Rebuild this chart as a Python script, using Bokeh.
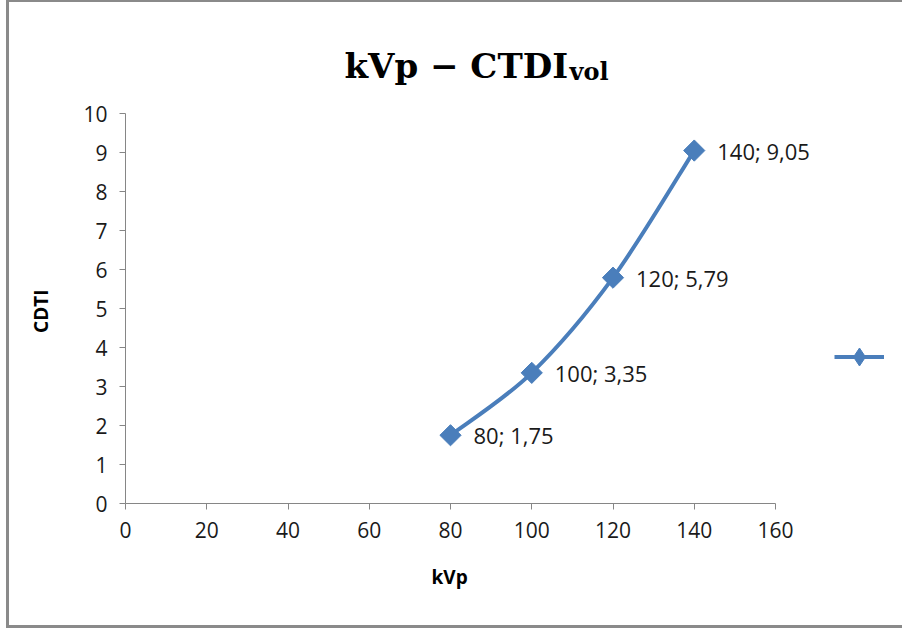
from bokeh.plotting import figure
from bokeh.models import (Range1d, FixedTicker, Label, LabelSet, Legend, LegendItem,
                          ColumnDataSource, Title)
from bokeh.core.properties import value
from bokeh.embed import file_html
from bokeh.resources import INLINE
import math

# data
kvp = [80, 100, 120, 140]
ctdi = [1.75, 3.35, 5.79, 9.05]
x_ticks = [0, 20, 40, 60, 80, 100, 120, 140, 160]
y_ticks = [0, 1, 2, 3, 4, 5, 6, 7, 8, 9, 10]
title_main = "kVp \u2212 CTDI"
title_sub = "vol"
x_label = "kVp"
y_label = "CDTI"

BLUE = "#4A7EBB"
AXIS = "#868686"
FONT = "Open Sans"
EDGE = "#8a8a8a"

# plot geometry: axis spans 0..160 over 650px and 0..10 over 390px;
# the frame is extended to the canvas edges so the texts outside the axes are not clipped
W, H = 902, 628
LEFT, BOTTOM = 125, 125
XMAX, YMAX = x_ticks[-1], y_ticks[-1]
px_x = 650 / XMAX
px_y = 390 / YMAX
x_end = (W - LEFT) / px_x
y_end = (H - BOTTOM) / px_y

grad = f"linear-gradient({EDGE}, {EDGE})"
p = figure(width=W, height=H, output_backend="svg", toolbar_location=None,
           x_range=Range1d(0, x_end), y_range=Range1d(0, y_end),
           min_border_left=LEFT, min_border_right=0, min_border_top=0, min_border_bottom=BOTTOM,
           styles={"background": f"{grad} 6px 0 / 3px 100% no-repeat, "
                                 f"{grad} 6px 0 / 100% 2px no-repeat, "
                                 f"{grad} 6px 100% / 100% 3px no-repeat, white"})
p.background_fill_color = None
p.border_fill_color = None
p.outline_line_color = None
p.xgrid.grid_line_color = None
p.ygrid.grid_line_color = None

for ax, ticks in ((p.xaxis[0], x_ticks), (p.yaxis[0], y_ticks)):
    ax.ticker = FixedTicker(ticks=ticks)
    ax.bounds = (ticks[0], ticks[-1])
    ax.axis_line_color = AXIS
    ax.major_tick_line_color = AXIS
    ax.major_tick_out = 6
    ax.major_tick_in = 0
    ax.minor_tick_line_color = None
    ax.major_label_text_font = FONT
    ax.major_label_text_font_size = "21px"
    ax.major_label_text_color = "#1a1a1a"
p.xaxis.major_label_standoff = 12
p.yaxis.major_label_standoff = 12

# axis titles (placed as side titles so they centre on the axis bounds, not the extended frame)
p.add_layout(Title(text=x_label, align="left", offset=306, vertical_align="top", standoff=46,
                   text_font=FONT, text_font_size="19px", text_font_style="bold",
                   text_color="#000000"), "below")
p.add_layout(Title(text=y_label, align="right", offset=289, vertical_align="top", standoff=50,
                   text_font=FONT, text_font_size="19px", text_font_style="bold",
                   text_color="#000000"), "left")

# smooth curve (Catmull-Rom style bezier built from the data points)
n = len(kvp)
x0s, y0s, x1s, y1s, cx0, cy0, cx1, cy1 = [], [], [], [], [], [], [], []
t = 1.0 / 6.0
for i in range(n - 1):
    pa = (kvp[max(i - 1, 0)], ctdi[max(i - 1, 0)])
    pb = (kvp[i], ctdi[i])
    pc = (kvp[i + 1], ctdi[i + 1])
    pd = (kvp[min(i + 2, n - 1)], ctdi[min(i + 2, n - 1)])
    x0s.append(pb[0]); y0s.append(pb[1])
    x1s.append(pc[0]); y1s.append(pc[1])
    cx0.append(pb[0] + (pc[0] - pa[0]) * t)
    cy0.append(pb[1] + (pc[1] - pa[1]) * t)
    cx1.append(pc[0] - (pd[0] - pb[0]) * t)
    cy1.append(pc[1] - (pd[1] - pb[1]) * t)

p.bezier(x0=x0s, y0=y0s, x1=x1s, y1=y1s, cx0=cx0, cy0=cy0, cx1=cx1, cy1=cy1,
         line_color=BLUE, line_width=4)

src = ColumnDataSource(dict(x=kvp, y=ctdi,
                            lab=[f"{a}; {b:.2f}".replace(".", ",") for a, b in zip(kvp, ctdi)]))
p.scatter("x", "y", source=src, marker="square", size=15, angle=math.pi / 4,
          fill_color=BLUE, line_color=BLUE)
p.add_layout(LabelSet(x="x", y="y", text="lab", source=src, x_offset=23, text_baseline="middle",
                      text_font=value(FONT), text_font_size="22px", text_color="#1a1a1a"))

# legend (no label text in the reference)
nan = float("nan")
leg_line = p.line(x=[nan], y=[nan], line_color=BLUE, line_width=4)
leg_pt = p.scatter(x=[nan], y=[nan], marker="diamond", size=18,
                   fill_color=BLUE, line_color=BLUE)
legend = Legend(items=[LegendItem(label=" ", renderers=[leg_line, leg_pt])],
                location=(709, 124), glyph_width=50, glyph_height=45,
                border_line_color=None, background_fill_alpha=0,
                label_standoff=0, padding=2, margin=0, spacing=0)
p.add_layout(legend, "center")

# title with subscript (screen units, relative to the frame's bottom-left)
p.add_layout(Label(x=219, y=438, x_units="screen", y_units="screen", text=title_main,
                   text_align="left", text_baseline="alphabetic",
                   text_font="DejaVu Serif", text_font_size="34px", text_font_style="bold",
                   text_color="#000000"))
p.add_layout(Label(x=444, y=432, x_units="screen", y_units="screen", text=title_sub,
                   text_align="left", text_baseline="alphabetic",
                   text_font="DejaVu Serif", text_font_size="24px", text_font_style="bold",
                   text_color="#000000"))

open("out.html", "w").write(file_html(p, INLINE))
